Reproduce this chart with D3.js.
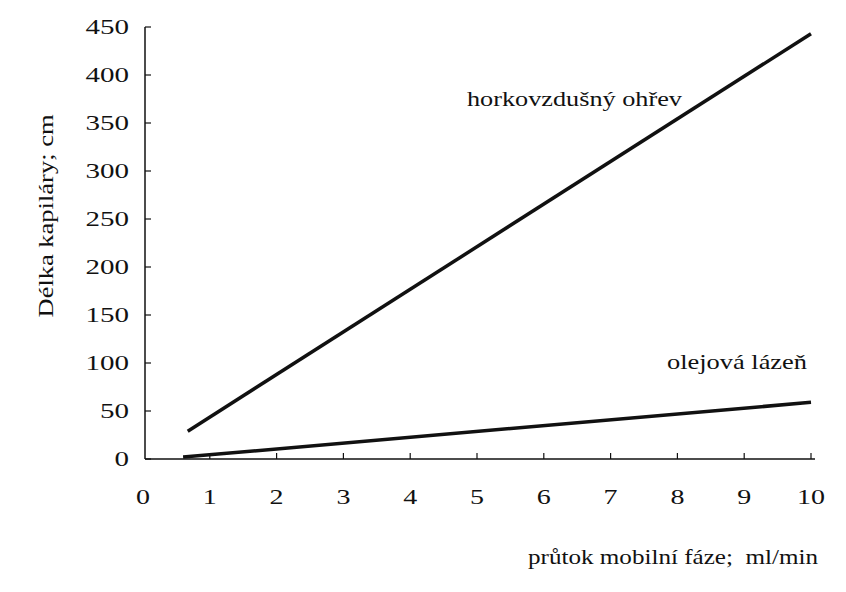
<!DOCTYPE html>
<html><head><meta charset="utf-8">
<script src="https://cdn.jsdelivr.net/npm/d3@7"></script>
<style>body{margin:0;background:#fff}text{font-family:"Liberation Serif",serif;fill:#111}</style>
</head><body><svg id="c" width="846" height="592"></svg>
<script>
// data
const hotAirX = [0.67, 10];
const hotAirY = [29, 443];
const oilX = [0.6, 10];
const oilY = [2, 59];
const xTicks = [0,1,2,3,4,5,6,7,8,9,10];
const yTicks = [0,50,100,150,200,250,300,350,400,450];

const svg = d3.select('#c');
const x = d3.scaleLinear().domain([0,10]).range([143,811]);
const y = d3.scaleLinear().domain([0,450]).range([459,27]);

svg.append('line').attr('x1',145).attr('x2',145).attr('y1',y(450)).attr('y2',y(0)).attr('stroke','#111').attr('stroke-width',1.5);
svg.append('line').attr('x1',145).attr('x2',x(10)+4).attr('y1',y(0)).attr('y2',y(0)).attr('stroke','#111').attr('stroke-width',1.5);

svg.selectAll('.yt').data(yTicks).join('line')
  .attr('x1',145).attr('x2',151).attr('y1',d=>y(d)).attr('y2',d=>y(d)).attr('stroke','#111').attr('stroke-width',1.2);
svg.selectAll('.yl').data(yTicks).join('text')
  .attr('x',129).attr('y',d=>y(d)+7).attr('text-anchor','end').attr('font-size',21)
  .attr('textLength',d=>String(d).length*14.5).attr('lengthAdjust','spacingAndGlyphs').text(d=>d);

svg.selectAll('.xt').data(xTicks.slice(1)).join('line')
  .attr('x1',d=>x(d)).attr('x2',d=>x(d)).attr('y1',y(0)).attr('y2',y(0)-6).attr('stroke','#111').attr('stroke-width',1.2);
svg.selectAll('.xl').data(xTicks).join('text')
  .attr('x',d=>x(d)).attr('y',504).attr('text-anchor','middle').attr('font-size',21)
  .attr('textLength',d=>String(d).length*14).attr('lengthAdjust','spacingAndGlyphs').text(d=>d);

const line = d3.line().x(d=>x(d[0])).y(d=>y(d[1]));
[[hotAirX,hotAirY],[oilX,oilY]].forEach(([xs,ys])=>{
  svg.append('path').attr('d',line(xs.map((v,i)=>[v,ys[i]])))
    .attr('fill','none').attr('stroke','#111').attr('stroke-width',3.5);
});

function label(t, tx, ty, w, rot) {
  const el = svg.append('text').attr('font-size',22).attr('textLength',w)
    .attr('lengthAdjust','spacingAndGlyphs').attr('xml:space','preserve').text(t);
  if (rot) el.attr('transform',`translate(${tx},${ty}) rotate(-90)`).attr('text-anchor','middle');
  else el.attr('x',tx).attr('y',ty);
}
label('horkovzdušný ohřev', 467, 106, 215);
label('olejová lázeň', 667, 369, 140);
label('průtok mobilní fáze;\u00a0\u00a0ml/min', 528, 564, 290);
label('Délka kapiláry; cm', 53, 216, 203, true);
</script></body></html>
